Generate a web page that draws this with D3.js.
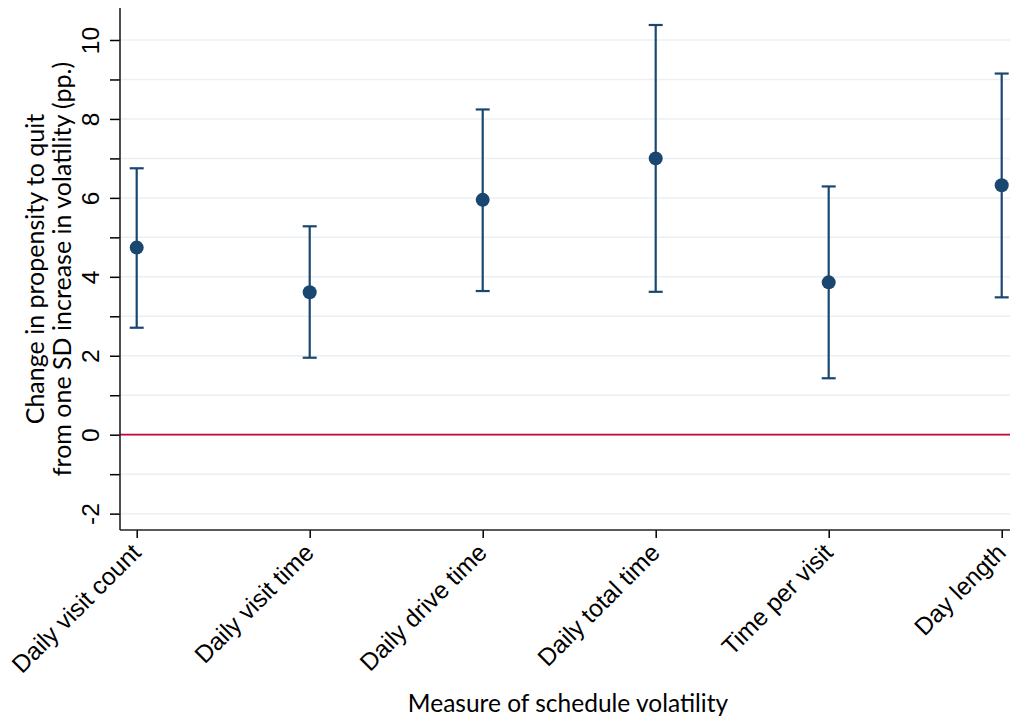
<!DOCTYPE html>
<html><head><meta charset="utf-8">
<script src="https://cdn.jsdelivr.net/npm/d3@7"></script>
<style>body{margin:0;background:#fff;} svg{display:block;font-family:Lato,"Open Sans",sans-serif;}</style>
</head><body><svg id="c" width="1010" height="717"></svg>
<script>
const categories = ["Daily visit count","Daily visit time","Daily drive time","Daily total time","Time per visit","Day length"];
const estimates = [4.74, 3.61, 5.95, 7.00, 3.86, 6.32];
const lowerCI = [2.71, 1.95, 3.64, 3.62, 1.43, 3.48];
const upperCI = [6.75, 5.28, 8.24, 10.38, 6.29, 9.15];
const yMajorTicks = [-2, 0, 2, 4, 6, 8, 10];
const yMinorTicks = [-1, 1, 3, 5, 7, 9];
const yTitle = ["Change in propensity to quit", "from one SD increase in volatility (pp.)"];
const xTitle = "Measure of schedule volatility";

(function(){
const svg = d3.select("#c");
const mLeft = 120, mRight = 1010, mTop = 8, mBottom = 530;
const navy = "#1a476f";
const fs = 24.5;

const y = d3.scaleLinear().domain([0, 10]).range([434.7, 40]);
const x = d3.scalePoint().domain(categories).range([136.7, 1001.7]);

// gridlines
const allTicks = yMajorTicks.concat(yMinorTicks);
svg.append("g").selectAll("line").data(allTicks).join("line")
  .attr("x1", mLeft).attr("x2", mRight)
  .attr("y1", d => y(d)).attr("y2", d => y(d))
  .attr("stroke", "#eaf0f3").attr("stroke-width", 1.5);

// zero reference line
svg.append("line").attr("x1", mLeft).attr("x2", mRight)
  .attr("y1", y(0)).attr("y2", y(0))
  .attr("stroke", "#c10534").attr("stroke-width", 1.8);

// y axis
const yAxis = d3.axisLeft(y).tickValues(yMajorTicks).tickSize(10).tickPadding(0).tickFormat(d => String(d));
const gy = svg.append("g").attr("transform", `translate(${mLeft},0)`).call(yAxis);
gy.select(".domain").remove();
gy.selectAll(".tick line").attr("stroke", "#000").attr("stroke-width", 1.5);
gy.selectAll(".tick text")
  .attr("font-size", fs).attr("fill", "#000")
  .attr("text-anchor", "middle")
  .attr("transform", "translate(-30,0) rotate(-90)")
  .attr("x", 0).attr("y", 0).attr("dy", "0.35em");
const gyMinor = svg.append("g").attr("transform", `translate(${mLeft},0)`)
  .call(d3.axisLeft(y).tickValues(yMinorTicks).tickSize(10).tickFormat(""));
gyMinor.select(".domain").remove();
gyMinor.selectAll(".tick line").attr("stroke", "#000").attr("stroke-width", 1.5);
svg.append("line").attr("x1", mLeft).attr("x2", mLeft).attr("y1", mTop).attr("y2", mBottom)
  .attr("stroke", "#222").attr("stroke-width", 1.6);

// x axis
const xAxis = d3.axisBottom(x).tickSize(8).tickPadding(4);
const gx = svg.append("g").attr("transform", `translate(0,${mBottom})`).call(xAxis);
gx.select(".domain").remove();
gx.selectAll(".tick line").attr("stroke", "#000").attr("stroke-width", 1.5);
gx.selectAll(".tick text")
  .attr("font-size", fs).attr("fill", "#000")
  .attr("text-anchor", "end")
  .attr("transform", "translate(-7,12) rotate(-45)")
  .attr("x", 0).attr("y", 0).attr("dy", "0.7em");
svg.append("line").attr("x1", mLeft).attr("x2", mRight).attr("y1", mBottom).attr("y2", mBottom)
  .attr("stroke", "#222").attr("stroke-width", 1.6);

// error bars
const data = categories.map((c, i) => ({c, est: estimates[i], lo: lowerCI[i], hi: upperCI[i]}));
const eb = svg.append("g");
eb.selectAll("line.v").data(data).join("line").attr("class", "v")
  .attr("x1", d => x(d.c)).attr("x2", d => x(d.c))
  .attr("y1", d => y(d.lo)).attr("y2", d => y(d.hi))
  .attr("stroke", navy).attr("stroke-width", 2.2);
eb.selectAll("line.hi").data(data).join("line").attr("class", "hi")
  .attr("x1", d => x(d.c) - 7).attr("x2", d => x(d.c) + 7)
  .attr("y1", d => y(d.hi)).attr("y2", d => y(d.hi))
  .attr("stroke", navy).attr("stroke-width", 2.2);
eb.selectAll("line.lo").data(data).join("line").attr("class", "lo")
  .attr("x1", d => x(d.c) - 7).attr("x2", d => x(d.c) + 7)
  .attr("y1", d => y(d.lo)).attr("y2", d => y(d.lo))
  .attr("stroke", navy).attr("stroke-width", 2.2);
eb.selectAll("circle").data(data).join("circle")
  .attr("cx", d => x(d.c)).attr("cy", d => y(d.est)).attr("r", 7)
  .attr("fill", navy);

// titles
const yt = svg.append("text").attr("transform", `translate(48,${(mTop+mBottom)/2}) rotate(-90)`)
  .attr("text-anchor", "middle").attr("font-size", 25).attr("fill", "#000");
yt.append("tspan").attr("x", 0).attr("y", -13).attr("dy", "0.35em").text(yTitle[0]);
yt.append("tspan").attr("x", 0).attr("y", 14).attr("dy", "0.35em").text(yTitle[1]);

svg.append("text").attr("x", (mLeft + mRight) / 2 + 3).attr("y", 703).attr("dy", "0.35em")
  .attr("text-anchor", "middle").attr("font-size", fs).attr("fill", "#000").text(xTitle);
})();
</script></body></html>
